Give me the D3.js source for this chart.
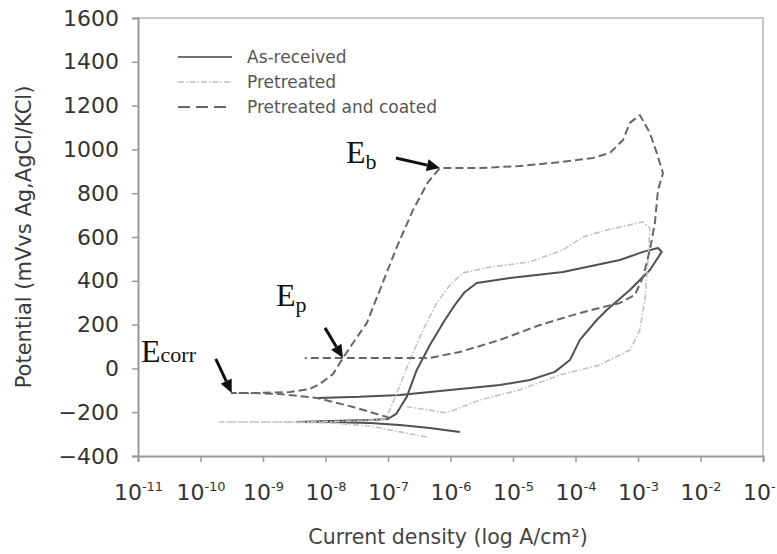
<!DOCTYPE html>
<html>
<head>
<meta charset="utf-8">
<script src="https://cdn.jsdelivr.net/npm/d3@7"></script>
<style>
  html, body { margin: 0; padding: 0; background: #fff; }
  svg { display: block; }
</style>
</head>
<body>
<svg id="chart" width="777" height="554"></svg>
<script>
// Potentiodynamic polarization curves: [log10 current density (A/cm²), potential (mV)]
const asReceived = [
  [-5.85,-290],[-6.33,-272],[-6.81,-258],[-7.29,-249],[-7.93,-245],[-8.46,-245],
  [-7.93,-240],[-7.29,-236],[-7.00,-231],[-6.87,-208],[-6.78,-167],[-6.70,-130],
  [-6.54,-7],[-6.33,107],[-6.09,221],[-5.93,290],[-5.77,349],[-5.58,390],
  [-5.05,413],[-4.20,440],[-3.29,495],[-2.92,532],[-2.68,550],[-2.62,532],
  [-2.81,449],[-3.13,358],[-3.50,267],[-3.66,221],[-3.93,130],[-4.09,38],
  [-4.33,-16],[-4.73,-53],[-5.21,-76],[-6.01,-99],[-6.81,-121],[-7.45,-130],[-8.12,-135]
];
const pretreated = [
  [-6.38,-313],[-6.81,-290],[-7.29,-263],[-7.93,-249],[-8.73,-245],[-9.69,-245],
  [-8.41,-245],[-7.45,-240],[-7.05,-231],[-6.97,-190],[-6.86,-112],[-6.65,38],
  [-6.44,175],[-6.22,299],[-6.01,381],[-5.80,436],[-5.37,463],[-4.73,486],
  [-4.20,541],[-3.88,600],[-3.50,632],[-2.92,669],[-2.81,641],[-2.84,495],
  [-2.89,312],[-2.97,175],[-3.13,84],[-3.61,16],[-4.25,-30],[-4.89,-98],
  [-5.53,-144],[-6.06,-203],[-6.70,-175]
];
const coated = [
  [-6.97,-226],[-7.56,-176],[-8.14,-135],[-8.73,-117],[-9.21,-112],[-9.50,-112],
  [-9.05,-112],[-8.57,-108],[-8.25,-94],[-8.09,-71],[-7.88,-26],[-7.72,48],
  [-7.56,116],[-7.34,207],[-7.13,358],[-6.86,554],[-6.60,723],[-6.36,851],[-6.17,915],
  [-5.53,915],[-4.89,924],[-4.25,942],[-3.72,961],[-3.45,984],[-3.24,1043],
  [-3.13,1121],[-2.97,1157],[-2.81,1075],[-2.70,984],[-2.60,892],
  [-2.68,815],[-2.73,664],[-2.81,541],[-2.92,417],[-3.05,335],[-3.29,299],
  [-3.93,253],[-4.57,198],[-5.21,130],[-5.85,75],[-6.33,48],[-7.13,48],[-7.77,48],[-8.33,48]
];

const seriesNames = ["As-received", "Pretreated", "Pretreated and coated"];
const xTickExponents = [-11, -10, -9, -8, -7, -6, -5, -4, -3, -2, -1];
const yTickValues = [-400, -200, 0, 200, 400, 600, 800, 1000, 1200, 1400, 1600];

// Characteristic potentials marked on the curves
const markers = [
  { main: "E", sub: "corr", at: [-9.50, -112] },
  { main: "E", sub: "p",    at: [-7.72, 48] },
  { main: "E", sub: "b",    at: [-6.17, 915] }
];

const svg = d3.select("#chart");
const plot = { left: 138, right: 763, top: 18, bottom: 456 };

const x = d3.scaleLog().domain([1e-11, 1e-1]).range([plot.left, plot.right]);
const y = d3.scaleLinear().domain([-400, 1600]).range([plot.bottom, plot.top]);

const sans = "'DejaVu Sans', 'Liberation Sans', Arial, sans-serif";
const serif = "'Liberation Serif', 'DejaVu Serif', 'Times New Roman', serif";

// Frame (top and right edges)
svg.append("path")
  .attr("d", `M${plot.left},${plot.top}H${plot.right}V${plot.bottom}`)
  .attr("fill", "none").attr("stroke", "#c9c9c9").attr("stroke-width", 2);

// Y axis
const yAxis = svg.append("g")
  .attr("transform", `translate(${plot.left},0)`)
  .call(d3.axisLeft(y).tickValues(yTickValues).tickSize(6).tickPadding(13).tickFormat(d3.format("d")));
yAxis.select(".domain").attr("stroke", "#9a9a9a").attr("stroke-width", 2);
yAxis.selectAll(".tick line").attr("stroke", "#9a9a9a").attr("stroke-width", 1.5);
yAxis.selectAll(".tick text")
  .attr("font-family", sans).attr("font-size", 22).attr("fill", "#333");

// X axis with power-of-ten labels
const xAxis = svg.append("g")
  .attr("transform", `translate(0,${plot.bottom})`)
  .call(d3.axisBottom(x).tickValues(xTickExponents.map(e => Math.pow(10, e))).tickSize(6).tickFormat(""));
xAxis.select(".domain").attr("stroke", "#9a9a9a").attr("stroke-width", 2);
xAxis.selectAll(".tick line").attr("stroke", "#9a9a9a").attr("stroke-width", 1.5);
xAxis.selectAll(".tick").each(function(d, i) {
  const t = d3.select(this).append("text")
    .attr("y", 44).attr("text-anchor", "middle")
    .attr("font-family", sans).attr("fill", "#333");
  t.append("tspan").attr("font-size", 22).text("10");
  t.append("tspan").attr("font-size", 13).attr("dy", -9).text(String(xTickExponents[i]));
});

// Axis titles
svg.append("text")
  .attr("transform", `translate(31,237) rotate(-90)`)
  .attr("text-anchor", "middle")
  .attr("font-family", sans).attr("font-size", 21).attr("fill", "#3a3a3a")
  .text("Potential (mVvs Ag,AgCl/KCl)");

svg.append("text")
  .attr("x", 448).attr("y", 544).attr("text-anchor", "middle")
  .attr("font-family", sans).attr("font-size", 20.5).attr("fill", "#444")
  .text("Current density (log A/cm²)");

// Curves
const styles = [
  { data: asReceived, stroke: "#505050", width: 2,   dash: null },
  { data: pretreated, stroke: "#c2c2c2", width: 1.6, dash: "6,2,1.5,2" },
  { data: coated,     stroke: "#666666", width: 2,   dash: "8,4" }
];
const line = d3.line().x(d => x(Math.pow(10, d[0]))).y(d => y(d[1]));

svg.append("g").selectAll("path")
  .data(styles)
  .join("path")
  .attr("d", s => line(s.data))
  .attr("fill", "none")
  .attr("stroke", s => s.stroke)
  .attr("stroke-width", s => s.width)
  .attr("stroke-dasharray", s => s.dash)
  .attr("stroke-linejoin", "round");

// Legend
const legend = svg.append("g");
seriesNames.forEach((name, i) => {
  const ly = 57 + i * 25;
  const s = styles[i];
  legend.append("line")
    .attr("x1", 178).attr("x2", 232).attr("y1", ly).attr("y2", ly)
    .attr("stroke", i === 0 ? "#707070" : s.stroke)
    .attr("stroke-width", s.width)
    .attr("stroke-dasharray", i === 2 ? "12,6" : s.dash);
  legend.append("text")
    .attr("x", 247).attr("y", ly + 6)
    .attr("font-family", sans).attr("font-size", 17).attr("fill", "#555")
    .text(name);
});

// Arrow annotations for Ecorr, Ep and Eb
const arrowOffsets = [[-16, -34], [-18, -30], [-44, -10]];
const labelPos = [[141, 362], [276, 306], [346, 163]];
const ann = svg.append("g");
markers.forEach((m, i) => {
  const tx = x(Math.pow(10, m.at[0])), ty = y(m.at[1]);
  const sx = tx + arrowOffsets[i][0], sy = ty + arrowOffsets[i][1];
  const ang = Math.atan2(ty - sy, tx - sx);
  const headLen = 13, headW = 6;
  const bx = tx - headLen * Math.cos(ang), by = ty - headLen * Math.sin(ang);
  ann.append("line")
    .attr("x1", sx).attr("y1", sy).attr("x2", bx).attr("y2", by)
    .attr("stroke", "#111").attr("stroke-width", 3);
  ann.append("path")
    .attr("d", `M${tx},${ty}L${bx + headW * Math.sin(ang)},${by - headW * Math.cos(ang)}L${bx - headW * Math.sin(ang)},${by + headW * Math.cos(ang)}Z`)
    .attr("fill", "#111");
  const t = ann.append("text")
    .attr("x", labelPos[i][0]).attr("y", labelPos[i][1])
    .attr("font-family", serif).attr("fill", "#111");
  t.append("tspan").attr("font-size", 32).text(m.main);
  t.append("tspan").attr("font-size", 22).attr("dy", m.sub === "corr" ? 0 : 6).text(m.sub);
});
</script>
</body>
</html>
